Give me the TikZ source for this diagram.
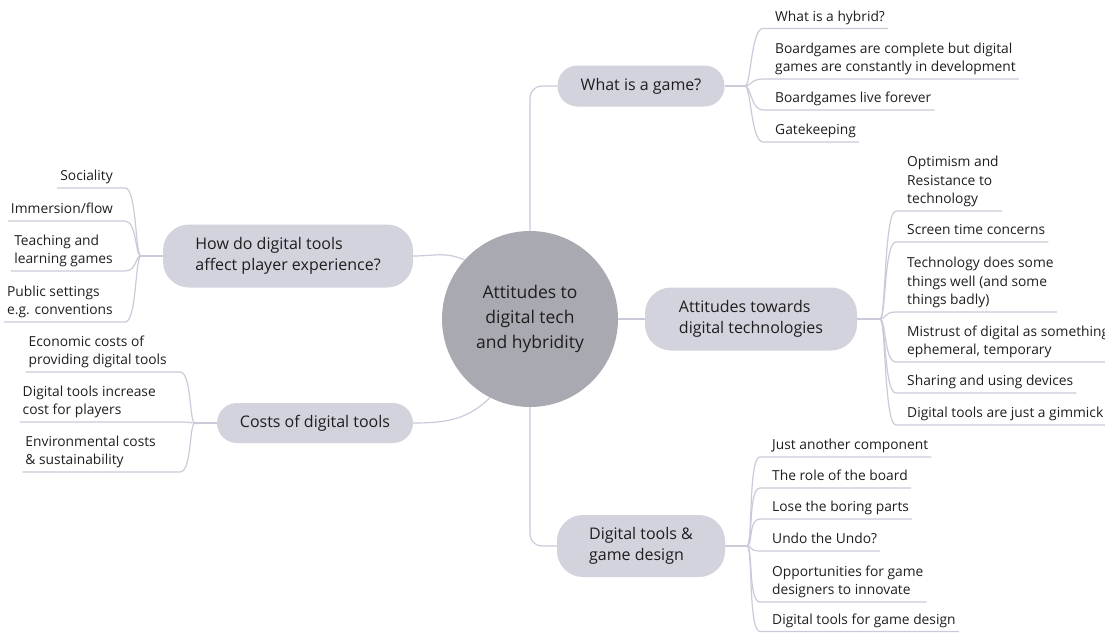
\documentclass[tikz,border=0pt]{standalone}
\usepackage{fontspec}
\setmainfont{Open Sans}
\definecolor{hubgray}{HTML}{A9A9B2}
\definecolor{topicfill}{HTML}{D3D3DE}
\definecolor{branchcol}{HTML}{CACAD9}
\definecolor{inkcol}{HTML}{1E1E1E}
\begin{document}
\begin{tikzpicture}[x=1pt, y=1pt,
    hub/.style={circle, fill=hubgray, minimum size=176pt, align=center, text=inkcol,
      font=\fontsize{17.5}{25}\selectfont},
    topic/.style={fill=topicfill, rounded corners=20pt, align=left, text=inkcol,
      font=\fontsize{16}{21.5}\selectfont},
    leafr/.style={anchor=south west, inner xsep=3pt, inner ysep=3pt, text depth=4pt,
      align=left, text=inkcol, font=\fontsize{13.8}{18.5}\selectfont},
    leafl/.style={leafr, anchor=south east},
    branch/.style={draw=branchcol, line width=1.2pt}]
  \useasboundingbox (0,0) rectangle (1105,-632);

  % centre and main topics
  \node[hub] (hub) at (530,-319) {Attitudes to\\digital tech\\and hybridity};
  \node[topic, minimum width=167pt, minimum height=41pt] (game) at (641,-86) {What is a game?};
  \node[topic, minimum width=250pt, minimum height=63pt, rounded corners=26pt] (player) at (288,-256)
    {How do digital tools\\affect player experience?};
  \node[topic, minimum width=212pt, minimum height=63pt, rounded corners=26pt] (attitude) at (751,-319)
    {Attitudes towards\\digital technologies};
  \node[topic, minimum width=196pt, minimum height=40pt] (costs) at (315,-423) {Costs of digital tools};
  \node[topic, minimum width=168pt, minimum height=62pt, rounded corners=26pt] (design) at (641,-546)
    {Digital tools \&\\game design};

  \draw[branch, rounded corners=12pt] (hub.north) |- (game.west);
  \draw[branch, rounded corners=12pt] (hub.south) |- (design.west);
  \draw[branch] (hub.east) -- (attitude.west);
  \draw[branch] (player.east) to[out=0, in=155] (hub.138);
  \draw[branch] (costs.east) to[out=0, in=225] (hub.243);

  % what is a game?
  \coordinate (gamej) at (745,-86);
  \coordinate (gameb) at (763,-86);
  \node[leafr] (g1) at (772,-28.5) {What is a hybrid?};
  \node[leafr] (g2) at (772,-79) {Boardgames are complete but digital\\games are constantly in development};
  \node[leafr] (g3) at (772,-110) {Boardgames live forever};
  \node[leafr] (g4) at (772,-142) {Gatekeeping};
  \draw[branch] (game.east) -- (gamej);
  \foreach \n in {g1,g2,g3,g4}
    \draw[branch] (gamej) .. controls +(6,0) and +(-12,0) .. (\n.south west -| gameb) -- (\n.south east);

  % attitudes towards digital technologies
  \coordinate (attj) at (880,-319);
  \coordinate (attb) at (896,-319);
  \node[leafr] (a1) at (904,-211) {Optimism and\\Resistance to\\technology};
  \node[leafr] (a2) at (904,-242) {Screen time concerns};
  \node[leafr] (a3) at (904,-312) {Technology does some\\things well (and some\\things badly)};
  \node[leafr] (a4) at (904,-362) {Mistrust of digital as something\\ephemeral, temporary};
  \node[leafr] (a5) at (904,-393) {Sharing and using devices};
  \node[leafr] (a6) at (904,-425) {Digital tools are just a gimmick};
  \draw[branch] (attitude.east) -- (attj);
  \foreach \n in {a1,a2,a3,a4,a5,a6}
    \draw[branch] (attj) .. controls +(6,0) and +(-12,0) .. (\n.south west -| attb) -- (\n.south east);

  % digital tools & game design
  \coordinate (desj) at (747,-546);
  \coordinate (desb) at (760,-546);
  \node[leafr] (d1) at (769,-457) {Just another component};
  \node[leafr] (d2) at (769,-488) {The role of the board};
  \node[leafr] (d3) at (769,-519) {Lose the boring parts};
  \node[leafr] (d4) at (769,-551) {Undo the Undo?};
  \node[leafr] (d5) at (769,-602) {Opportunities for game\\designers to innovate};
  \node[leafr] (d6) at (769,-631.5) {Digital tools for game design};
  \draw[branch] (design.east) -- (desj);
  \foreach \n in {d1,d2,d3,d4,d5,d6}
    \draw[branch] (desj) .. controls +(6,0) and +(-12,0) .. (\n.south west -| desb) -- (\n.south east);

  % player experience
  \coordinate (playj) at (141,-256);
  \coordinate (playb) at (125,-256);
  \node[leafl] (p1) at (116,-188) {Sociality};
  \node[leafl] (p2) at (116,-221) {Immersion/flow};
  \node[leafl] (p3) at (116,-271) {Teaching and\\learning games};
  \node[leafl] (p4) at (116,-322) {Public settings\\e.g. conventions};
  \draw[branch] (player.west) -- (playj);
  \foreach \n in {p1,p2,p3,p4}
    \draw[branch] (playj) .. controls +(-6,0) and +(12,0) .. (\n.south east -| playb) -- (\n.south west);

  % costs
  \coordinate (costj) at (195,-423);
  \coordinate (costb) at (180,-423);
  \node[leafl] (c1) at (170,-372) {Economic costs of\\providing digital tools};
  \node[leafl] (c2) at (159,-422) {Digital tools increase\\cost for players};
  \node[leafl] (c3) at (159,-472) {Environmental costs\\\& sustainability};
  \draw[branch] (costs.west) -- (costj);
  \foreach \n in {c1,c2,c3}
    \draw[branch] (costj) .. controls +(-6,0) and +(12,0) .. (\n.south east -| costb) -- (\n.south west);
\end{tikzpicture}
\end{document}
